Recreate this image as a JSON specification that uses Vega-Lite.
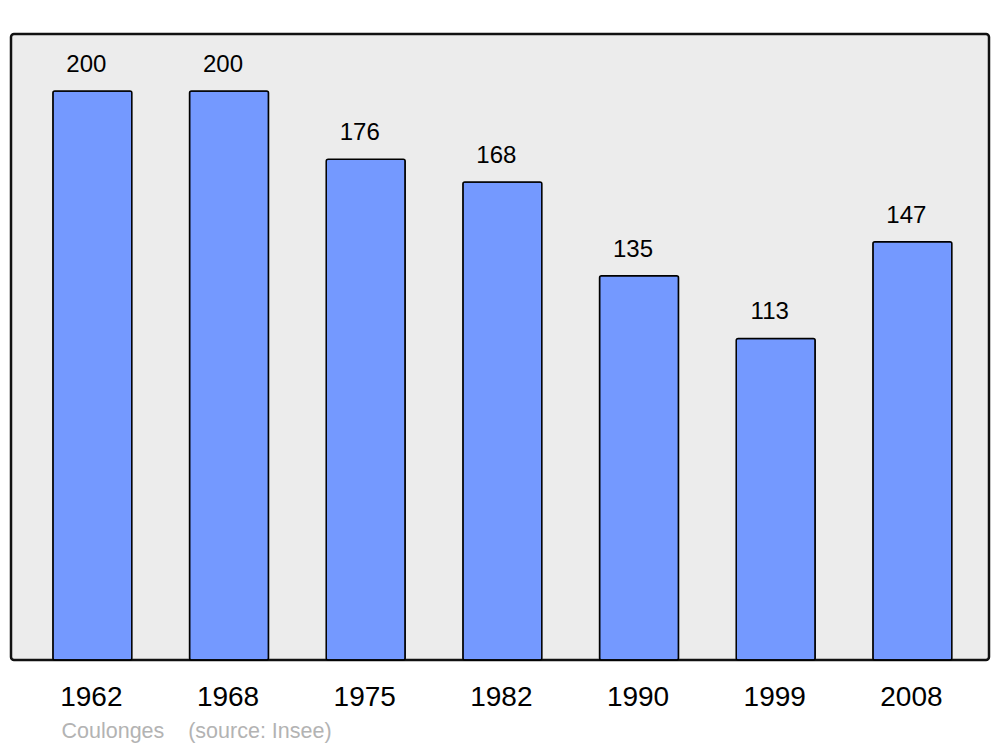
{
  "$schema": "https://vega.github.io/schema/vega-lite/v6.json",
  "width": 978,
  "height": 626,
  "autosize": {"type": "none"},
  "padding": {"left": 11, "top": 34, "right": 11, "bottom": 87},
  "background": "white",
  "config": {
    "font": "Liberation Sans",
    "view": {"fill": "#ececec", "stroke": "#111111", "strokeWidth": 2.5, "cornerRadius": 3}
  },
  "data": {
    "values": [
      {"year": "1962", "pop": 200},
      {"year": "1968", "pop": 200},
      {"year": "1975", "pop": 176},
      {"year": "1982", "pop": 168},
      {"year": "1990", "pop": 135},
      {"year": "1999", "pop": 113},
      {"year": "2008", "pop": 147}
    ]
  },
  "encoding": {
    "x": {
      "field": "year",
      "type": "ordinal",
      "sort": null,
      "scale": {"paddingInner": 0.422, "paddingOuter": 0.289, "align": 0.53},
      "axis": {
        "title": "Coulonges\u00a0\u00a0\u00a0\u00a0(source: Insee)",
        "titleFont": "Liberation Sans",
        "titleFontSize": 21.5,
        "titleFontWeight": "normal",
        "titleColor": "#b3b3b3",
        "titleAnchor": "start",
        "titleAlign": "left",
        "titleBaseline": "alphabetic",
        "titleX": 50,
        "titleY": 77,
        "labelAngle": 0,
        "labelFont": "Liberation Sans",
        "labelFontSize": 28,
        "labelColor": "black",
        "labelBaseline": "alphabetic",
        "labelPadding": 45,
        "labelOffset": -1,
        "ticks": false,
        "domain": false,
        "grid": false
      }
    },
    "y": {
      "field": "pop",
      "type": "quantitative",
      "scale": {"domain": [0, 220], "nice": false, "zero": true},
      "axis": null
    }
  },
  "layer": [
    {
      "mark": {"type": "bar", "fill": "#7499ff", "stroke": "black", "strokeWidth": 1.5, "cornerRadius": 2}
    },
    {
      "mark": {"type": "text", "baseline": "alphabetic", "dy": -19, "dx": -6, "fontSize": 24, "font": "Liberation Sans", "color": "black"},
      "encoding": {"text": {"field": "pop", "type": "quantitative"}}
    }
  ]
}
